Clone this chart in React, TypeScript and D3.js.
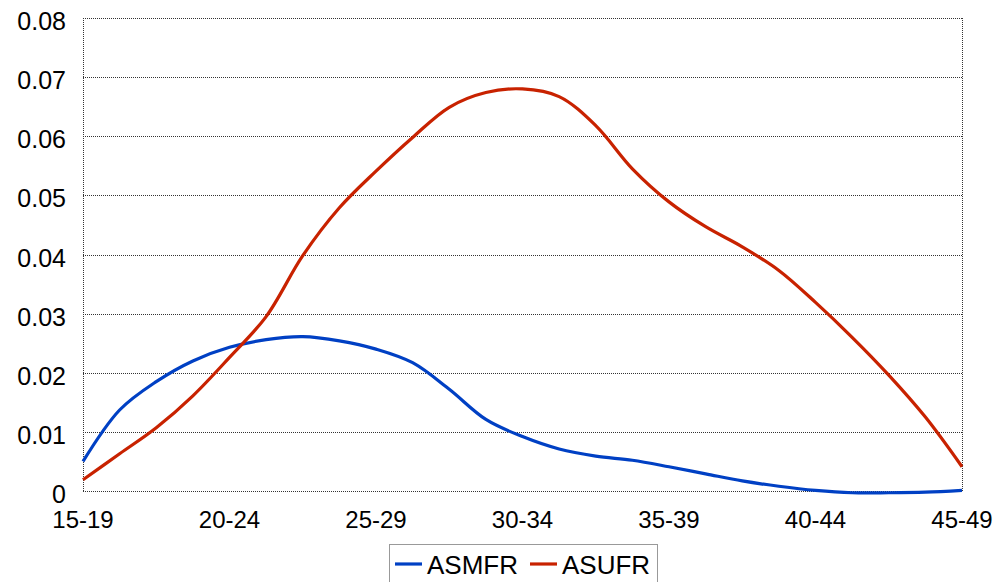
import { useEffect, useRef } from 'react';
import * as d3 from 'd3';

// age group tick labels
const ageGroups = ['15-19', '20-24', '25-29', '30-34', '35-39', '40-44', '45-49'];

// sample positions along the x axis (in age-group units, read every quarter group)
const samplePos = [
  0, 0.25, 0.5, 0.75, 1, 1.25, 1.5, 1.75, 2, 2.25, 2.5, 2.75, 3,
  3.25, 3.5, 3.75, 4, 4.25, 4.5, 4.75, 5, 5.25, 5.5, 5.75, 6,
];

const asmfr = [
  0.005, 0.0137, 0.0185, 0.022, 0.0243, 0.0256, 0.0261, 0.0254, 0.024, 0.0217, 0.0172, 0.0121, 0.0092,
  0.0071, 0.0059, 0.0052, 0.0041, 0.0029, 0.0017, 0.0008, 0.0001, -0.0003, -0.0003, -0.0002, 0.0001,
];

const asufr = [
  0.0019, 0.0063, 0.0107, 0.0161, 0.0226, 0.0295, 0.0398, 0.0479, 0.0541, 0.0598, 0.0649, 0.0674, 0.068,
  0.0667, 0.0618, 0.0545, 0.0489, 0.0447, 0.0413, 0.0373, 0.0319, 0.026, 0.0196, 0.0125, 0.0041,
];

const yTicks = [0, 0.01, 0.02, 0.03, 0.04, 0.05, 0.06, 0.07, 0.08];

const W = 1003;
const H = 582;

export default function App() {
  const svgRef = useRef<SVGSVGElement>(null);

  useEffect(() => {
    if (!svgRef.current) return;
    const svg = d3.select(svgRef.current);
    svg.selectAll('*').remove();

    const margin = { top: 18, right: 41, bottom: 91, left: 83 };
    const innerW = W - margin.left - margin.right;
    const innerH = H - margin.top - margin.bottom;
    const font = 'Liberation Sans, Arial, sans-serif';

    const x = d3.scaleLinear().domain([0, ageGroups.length - 1]).range([margin.left, margin.left + innerW]);
    const y = d3.scaleLinear().domain([0, 0.08]).range([margin.top + innerH, margin.top]);

    // gridlines (dotted)
    svg.append('g')
      .selectAll('line')
      .data(yTicks)
      .enter()
      .append('line')
      .attr('x1', x(0))
      .attr('x2', x(6))
      .attr('y1', d => Math.round(y(d)) + 0.5)
      .attr('y2', d => Math.round(y(d)) + 0.5)
      .attr('stroke', '#333')
      .attr('stroke-width', 1)
      .attr('stroke-dasharray', '1,1');

    // plot side borders
    [0, 6].forEach(v => {
      svg.append('line')
        .attr('x1', Math.round(x(v)) + 0.5)
        .attr('x2', Math.round(x(v)) + 0.5)
        .attr('y1', y(0.08))
        .attr('y2', y(0))
        .attr('stroke', '#333')
        .attr('stroke-dasharray', '1,1');
    });

    // y tick labels
    svg.append('g')
      .selectAll('text')
      .data(yTicks)
      .enter()
      .append('text')
      .attr('x', 66)
      .attr('y', d => y(d) + 12)
      .attr('text-anchor', 'end')
      .style('font-family', font)
      .style('font-size', '25px')
      .attr('fill', '#000')
      .text(d => (d === 0 ? '0' : d.toFixed(2)));

    // x tick labels
    svg.append('g')
      .selectAll('text')
      .data(ageGroups)
      .enter()
      .append('text')
      .attr('x', (_d, i) => x(i))
      .attr('y', 528)
      .attr('text-anchor', 'middle')
      .style('font-family', font)
      .style('font-size', '24px')
      .attr('fill', '#000')
      .text(d => d);

    const line = d3.line<number>()
      .x((_d, i) => x(samplePos[i]))
      .y(d => y(d))
      .curve(d3.curveCatmullRom.alpha(0.5));

    const series = [
      { label: 'ASMFR', values: asmfr, color: '#0040c4' },
      { label: 'ASUFR', values: asufr, color: '#c82200' },
    ];

    series.forEach(s => {
      svg.append('path')
        .datum(s.values)
        .attr('fill', 'none')
        .attr('stroke', s.color)
        .attr('stroke-width', 3.2)
        .attr('stroke-linejoin', 'round')
        .attr('d', line);
    });

    // legend
    const legend = svg.append('g');
    legend.append('rect')
      .attr('x', 389.5)
      .attr('y', 544.5)
      .attr('width', 268)
      .attr('height', 50)
      .attr('fill', '#fff')
      .attr('stroke', '#333')
      .attr('stroke-dasharray', '1,1');

    const legendX = [395, 530];
    series.forEach((s, i) => {
      const row = legend.append('g').attr('transform', `translate(${legendX[i]}, 564)`);
      row.append('line')
        .attr('x1', 0)
        .attr('x2', 27)
        .attr('y1', 0)
        .attr('y2', 0)
        .attr('stroke', s.color)
        .attr('stroke-width', 3.2);
      row.append('text')
        .attr('x', 32)
        .attr('y', 10)
        .style('font-family', font)
        .style('font-size', '26px')
        .attr('fill', '#000')
        .text(s.label);
    });
  }, []);

  return (
    <svg
      ref={svgRef}
      width={W}
      height={H}
      style={{ position: 'absolute', left: 0, top: 0, background: '#fff' }}
    />
  );
}
